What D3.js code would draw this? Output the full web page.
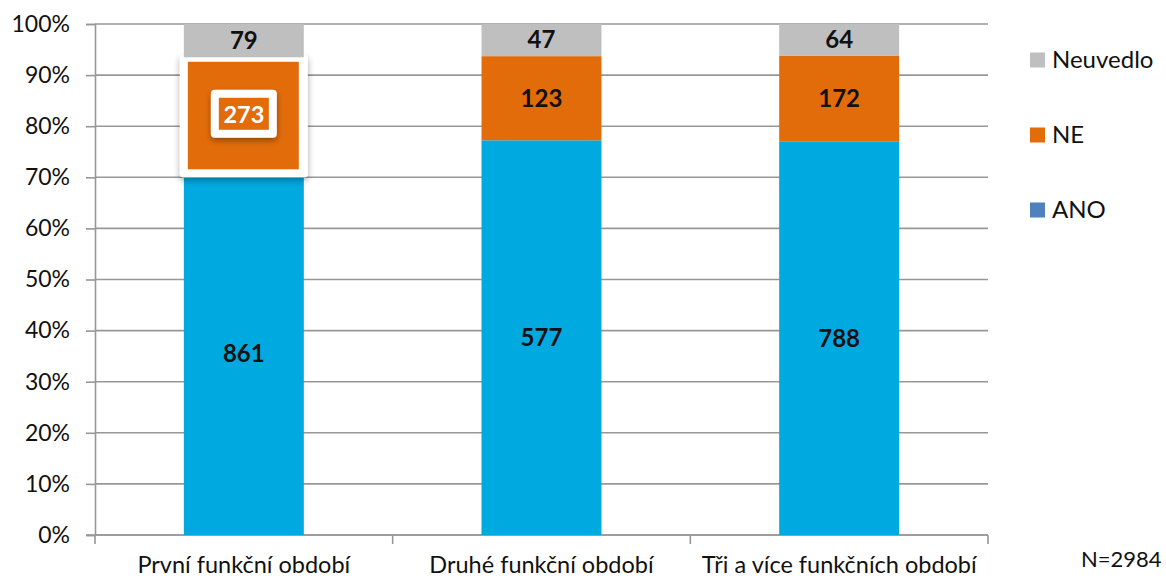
<!DOCTYPE html>
<html>
<head>
<meta charset="utf-8">
<script src="https://cdn.jsdelivr.net/npm/d3@7"></script>
<style>
  html, body { margin: 0; padding: 0; background: #fff; }
  svg { display: block; font-family: Lato, "Open Sans", sans-serif; }
</style>
</head>
<body>
<svg id="chart" width="1166" height="579"></svg>
<script>
// Categories and counts per answer
const categories = ["První funkční období", "Druhé funkční období", "Tři a více funkčních období"];
const seriesNames = ["ANO", "NE", "Neuvedlo"];
const ano = [861, 577, 788];
const ne = [273, 123, 172];
const neuvedlo = [79, 47, 64];
const yTicks = [0, 0.1, 0.2, 0.3, 0.4, 0.5, 0.6, 0.7, 0.8, 0.9, 1];
const totalLabel = "N=2984";

const barColors = { ANO: "#00A9E0", NE: "#E36C0A", Neuvedlo: "#BFBFBF" };
const legendColors = { ANO: "#4F81BD", NE: "#E36C0A", Neuvedlo: "#BFBFBF" };

const rows = categories.map((c, i) => ({ cat: c, ANO: ano[i], NE: ne[i], Neuvedlo: neuvedlo[i] }));
const stack = d3.stack().keys(seriesNames).offset(d3.stackOffsetExpand);
const layers = stack(rows);

const svg = d3.select("#chart");
const plotLeft = 95, plotRight = 988, plotTop = 24, plotBottom = 535;

const x = d3.scaleBand().domain(categories).range([plotLeft, plotRight]).paddingInner(0.597).paddingOuter(0.2985);
const xOuter = d3.scaleBand().domain(categories).range([plotLeft, plotRight]);
const y = d3.scaleLinear().domain([0, 1]).range([plotBottom, plotTop]);

const grid = "#979797";

// horizontal gridlines
svg.append("g").selectAll("line").data(yTicks).join("line")
  .attr("x1", plotLeft).attr("x2", plotRight)
  .attr("y1", d => y(d)).attr("y2", d => y(d))
  .attr("stroke", grid).attr("stroke-width", 1.6);

// y axis
const yAxis = svg.append("g").attr("transform", `translate(${plotLeft},0)`)
  .call(d3.axisLeft(y).tickValues(yTicks).tickFormat(d3.format(".0%")).tickSize(9).tickPadding(16));
yAxis.select(".domain").attr("stroke", grid).attr("stroke-width", 1.6);
yAxis.selectAll(".tick line").attr("stroke", grid).attr("stroke-width", 1.6);
yAxis.selectAll("text").attr("font-size", 23).attr("fill", "#111").attr("font-family", "Lato, sans-serif");

// x axis with ticks between categories
const xAxisG = svg.append("g").attr("transform", `translate(0,${plotBottom})`);
xAxisG.append("line").attr("x1", plotLeft - 9).attr("x2", plotRight).attr("stroke", grid).attr("stroke-width", 1.6);
const bounds = [plotLeft].concat(categories.map(c => xOuter(c) + xOuter.bandwidth()));
xAxisG.selectAll(".xt").data(bounds).join("line")
  .attr("x1", d => d).attr("x2", d => d).attr("y1", 0).attr("y2", 9)
  .attr("stroke", grid).attr("stroke-width", 1.6);
xAxisG.selectAll(".xl").data(categories).join("text")
  .attr("x", d => xOuter(d) + xOuter.bandwidth() / 2)
  .attr("y", 38)
  .attr("text-anchor", "middle")
  .attr("font-size", 23.5).attr("fill", "#111")
  .text(d => d);

// drop shadow for the selected segment
const defs = svg.append("defs");
const f = defs.append("filter").attr("id", "shadow").attr("x", "-20%").attr("y", "-20%").attr("width", "140%").attr("height", "150%");
f.append("feDropShadow").attr("dx", 0).attr("dy", 3).attr("stdDeviation", 3).attr("flood-color", "#000").attr("flood-opacity", 0.35);

// bars
const g = svg.append("g");
layers.forEach(layer => {
  const key = layer.key;
  layer.forEach((d, i) => {
    const x0 = x(categories[i]);
    const w = x.bandwidth();
    const y0 = y(d[1]);
    const h = y(d[0]) - y(d[1]);
    const selected = key === "NE" && i === 0;
    if (selected) {
      g.append("rect")
        .attr("x", x0 - 4).attr("y", y0 - 2).attr("width", w + 8).attr("height", h + 7)
        .attr("rx", 3).attr("fill", "#fff").attr("filter", "url(#shadow)");
      g.append("rect")
        .attr("x", x0 + 4).attr("y", y0 + 4.5).attr("width", w - 9).attr("height", h - 7.5)
        .attr("fill", barColors[key]);
    } else {
      g.append("rect")
        .attr("x", x0).attr("y", y0).attr("width", w).attr("height", h)
        .attr("fill", barColors[key]);
    }
  });
});

// value labels
const lg = svg.append("g");
layers.forEach(layer => {
  const key = layer.key;
  layer.forEach((d, i) => {
    const cx = x(categories[i]) + x.bandwidth() / 2;
    const cy = (y(d[0]) + y(d[1])) / 2;
    const v = d.data[key];
    if (key === "NE" && i === 0) {
      lg.append("rect").attr("x", cx - 33).attr("y", cy - 25).attr("width", 66).attr("height", 48)
        .attr("rx", 4).attr("fill", "#fff").attr("filter", "url(#shadow)");
      lg.append("rect").attr("x", cx - 25).attr("y", cy - 17).attr("width", 50).attr("height", 32)
        .attr("fill", barColors[key]);
      lg.append("text").attr("x", cx).attr("y", cy).attr("dy", "0.35em")
        .attr("text-anchor", "middle").attr("font-size", 23.5).attr("font-weight", "bold")
        .attr("fill", "#fff").text(v);
    } else {
      lg.append("text").attr("x", cx).attr("y", cy).attr("dy", "0.35em")
        .attr("text-anchor", "middle").attr("font-size", 24).attr("font-weight", "bold")
        .attr("fill", "#111").text(v);
    }
  });
});

// legend
const legendItems = ["Neuvedlo", "NE", "ANO"];
const leg = svg.append("g");
legendItems.forEach((k, i) => {
  const ly = 60 + i * 75;
  leg.append("rect").attr("x", 1030).attr("y", ly - 7.5).attr("width", 15).attr("height", 15).attr("fill", legendColors[k]);
  leg.append("text").attr("x", 1052).attr("y", ly).attr("dy", "0.35em")
    .attr("font-size", 24).attr("fill", "#111").text(k);
});

// sample size note
svg.append("text").attr("x", 1081).attr("y", 567).attr("font-size", 22).attr("fill", "#111").text(totalLabel);
</script>
</body>
</html>
